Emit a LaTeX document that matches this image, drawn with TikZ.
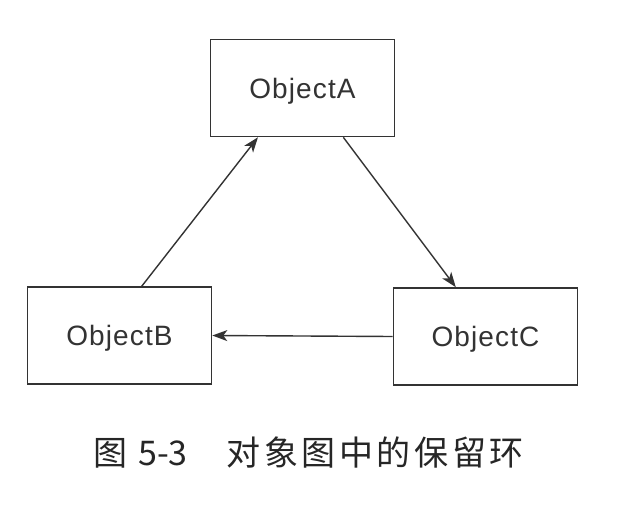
\documentclass[tikz,border=0pt]{standalone}
\usepackage{fontspec}
\setmainfont{Liberation Sans}
\newfontfamily\boxfont[LetterSpace=4]{Liberation Sans}
\newfontfamily\cjk[LetterSpace=10.5]{Noto Sans CJK SC}
\newfontfamily\cjkplain{Noto Sans CJK SC}
\usetikzlibrary{arrows.meta,calc}
\tikzset{
  objbox/.style={draw=black!80, line width=1.6pt, fill=white, minimum width=184pt, minimum height=97pt,
    inner sep=0pt, text height=20pt, text depth=0pt, text=black!80,
    font=\boxfont\fontsize{28}{34}\selectfont},
  link/.style={draw=black!80, line width=1.4pt, -{Stealth[length=15pt,width=11pt,inset=4pt]}}
}
\begin{document}
\begin{tikzpicture}[x=1pt,y=-1pt]
\useasboundingbox (0,0) rectangle (624,522);
\node[objbox] (A) at (302.5,88) {ObjectA};
\node[objbox] (B) at (119.5,335.5) {ObjectB};
\node[objbox] (C) at (485.5,336.5) {ObjectC};
\coordinate (b1) at ($(B.north west)!0.62!(B.north east)$);
\coordinate (a1) at ($(A.south west)!0.26!(A.south east)$);
\coordinate (a2) at ($(A.south west)!0.72!(A.south east)$);
\coordinate (c1) at ($(C.north west)!0.34!(C.north east)$);
\draw[link] (b1) -- (a1);
\draw[link] (a2) -- (c1);
\draw[link] (C.west) -- (B.east);
\node[anchor=base west, inner sep=0pt, text=black!85, font=\fontsize{34}{40}\selectfont] (cap) at (93.5,465)
  {\cjk 图\hspace{10.5pt}{\cjkplain 5-3}\hspace{39pt}对象图中的保留环};
\end{tikzpicture}
\end{document}
